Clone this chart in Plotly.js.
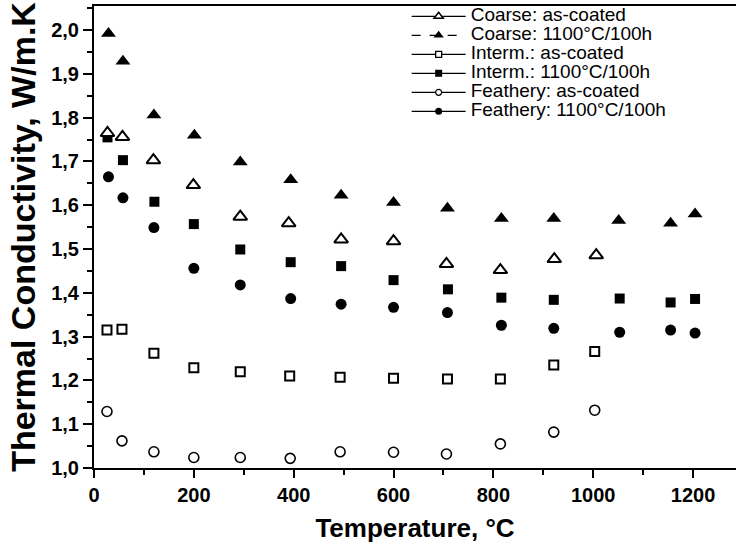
<!DOCTYPE html>
<html>
<head>
<meta charset="utf-8">
<script src="https://cdn.plot.ly/plotly-3.0.1.min.js"></script>
<style>
html, body { margin: 0; padding: 0; background: #fff; }
#chart { width: 736px; height: 552px; }
.legendtext { font-size: 19px !important; }
</style>
</head>
<body>
<div id="chart"></div>
<script>
// ---- data ----
const coarseAsX = [27, 57, 119, 199, 293, 390, 495, 600, 706, 814, 922, 1006];
const coarseAsY = [1.765, 1.756, 1.703, 1.646, 1.574, 1.559, 1.522, 1.518, 1.466, 1.452, 1.477, 1.486];

const coarseHtX = [29, 58, 120, 201, 293, 394, 495, 600, 708, 816, 921, 1051, 1155, 1204];
const coarseHtY = [1.992, 1.929, 1.806, 1.760, 1.699, 1.658, 1.623, 1.606, 1.593, 1.570, 1.570, 1.565, 1.559, 1.580];

const intermAsX = [26, 56, 120, 200, 293, 392, 493, 600, 708, 814, 921, 1003];
const intermAsY = [1.315, 1.317, 1.262, 1.229, 1.220, 1.210, 1.207, 1.205, 1.203, 1.203, 1.235, 1.266];

const intermHtX = [27, 58, 121, 200, 293, 394, 495, 600, 709, 816, 921, 1053, 1155, 1204];
const intermHtY = [1.755, 1.703, 1.608, 1.557, 1.499, 1.470, 1.461, 1.429, 1.408, 1.389, 1.384, 1.387, 1.378, 1.386];

const featherAsX = [26, 56, 120, 200, 293, 393, 493, 600, 706, 814, 921, 1003];
const featherAsY = [1.129, 1.062, 1.037, 1.024, 1.024, 1.022, 1.037, 1.036, 1.032, 1.055, 1.082, 1.132];

const featherHtX = [29, 58, 120, 200, 293, 394, 495, 600, 708, 816, 921, 1053, 1155, 1204];
const featherHtY = [1.665, 1.617, 1.549, 1.456, 1.418, 1.387, 1.374, 1.367, 1.355, 1.326, 1.319, 1.310, 1.315, 1.308];

const seriesNames = [
  'Coarse: as-coated',
  'Coarse: 1100°C/100h',
  'Interm.: as-coated',
  'Interm.: 1100°C/100h',
  'Feathery: as-coated',
  'Feathery: 1100°C/100h'
];

const xTickVals = [0, 200, 400, 600, 800, 1000, 1200];
const xTickText = ['0', '200', '400', '600', '800', '1000', '1200'];
const yTickVals = [1.0, 1.1, 1.2, 1.3, 1.4, 1.5, 1.6, 1.7, 1.8, 1.9, 2.0];
const yTickText = ['1,0', '1,1', '1,2', '1,3', '1,4', '1,5', '1,6', '1,7', '1,8', '1,9', '2,0'];

const xTitle = 'Temperature, °C';
const yTitle = 'Thermal Conductivity, W/m.K';

// ---- styles ----
const FONT = 'Liberation Sans, Arial, Helvetica, sans-serif';
const BLACK = '#000000';

function filled(symbol, size) {
  return { symbol: symbol, size: size, color: BLACK, line: { color: BLACK, width: 0 } };
}
function open(symbol, size, lw) {
  return { symbol: symbol, size: size, color: '#ffffff', line: { color: BLACK, width: lw } };
}

const styles = [
  { plot: open('triangle-up', 12, 2),   leg: open('triangle-up', 8, 1.5),  dash: 'solid' },
  { plot: filled('triangle-up', 13),    leg: filled('triangle-up', 9),     dash: 'dash' },
  { plot: open('square', 9, 2),         leg: open('square', 6, 1.3),       dash: 'solid' },
  { plot: filled('square', 10),         leg: filled('square', 7),          dash: 'solid' },
  { plot: open('circle', 10, 1.6),      leg: open('circle', 6, 1.2),       dash: 'solid' },
  { plot: filled('circle', 11),         leg: filled('circle', 7),          dash: 'solid' }
];

const xs = [coarseAsX, coarseHtX, intermAsX, intermHtX, featherAsX, featherHtX];
const ys = [coarseAsY, coarseHtY, intermAsY, intermHtY, featherAsY, featherHtY];

// draw filled markers first, open (white-filled) markers on top
const drawOrder = [1, 3, 5, 2, 4, 0];
const traces = [];
drawOrder.forEach(function (i) {
  traces.push({
    type: 'scatter', mode: 'markers', x: xs[i], y: ys[i], name: seriesNames[i],
    marker: styles[i].plot, showlegend: false, hoverinfo: 'x+y'
  });
});
// legend entries (line + marker symbol), in the reference's order
seriesNames.forEach(function (n, i) {
  traces.push({
    type: 'scatter', mode: 'lines+markers', x: [null], y: [null], name: n,
    line: { color: BLACK, width: 1.2, dash: styles[i].dash },
    marker: styles[i].leg, showlegend: true
  });
});

const layout = {
  width: 736, height: 552,
  margin: { l: 94, r: 0, t: 6, b: 84 },
  paper_bgcolor: '#ffffff', plot_bgcolor: '#ffffff',
  font: { family: FONT, color: BLACK },
  showlegend: true,
  legend: {
    x: 0.487, y: 1.009, xanchor: 'left', yanchor: 'top',
    bgcolor: 'rgba(0,0,0,0)', borderwidth: 0,
    font: { family: FONT, size: 12, color: BLACK },
    itemwidth: 54, tracegroupgap: 0
  },
  xaxis: {
    range: [0, 1286], showgrid: false, zeroline: false,
    showline: true, linecolor: BLACK, linewidth: 2, mirror: true,
    ticks: 'outside', ticklen: 8, tickwidth: 2, tickcolor: BLACK,
    tickmode: 'array', tickvals: xTickVals, ticktext: xTickText,
    tickfont: { family: FONT, size: 20, color: BLACK, weight: 'bold' },
    minor: { ticks: 'outside', dtick: 100, tick0: 0, ticklen: 5, tickwidth: 2, tickcolor: BLACK, showgrid: false },
    title: { text: xTitle, font: { family: FONT, size: 26, color: BLACK, weight: 'bold' }, standoff: 14 }
  },
  yaxis: {
    range: [1.0, 2.055], showgrid: false, zeroline: false,
    showline: true, linecolor: BLACK, linewidth: 2, mirror: false,
    ticks: 'outside', ticklen: 9, tickwidth: 2, tickcolor: BLACK,
    tickmode: 'array', tickvals: yTickVals, ticktext: yTickText,
    tickfont: { family: FONT, size: 20, color: BLACK, weight: 'bold' },
    minor: { ticks: 'outside', dtick: 0.05, tick0: 1.0, ticklen: 5, tickwidth: 2, tickcolor: BLACK, showgrid: false },
    title: { text: yTitle, font: { family: FONT, size: 34, color: BLACK, weight: 'bold' }, standoff: 5 }
  }
};

Plotly.newPlot('chart', traces, layout, { displayModeBar: false, staticPlot: true });
</script>
</body>
</html>
